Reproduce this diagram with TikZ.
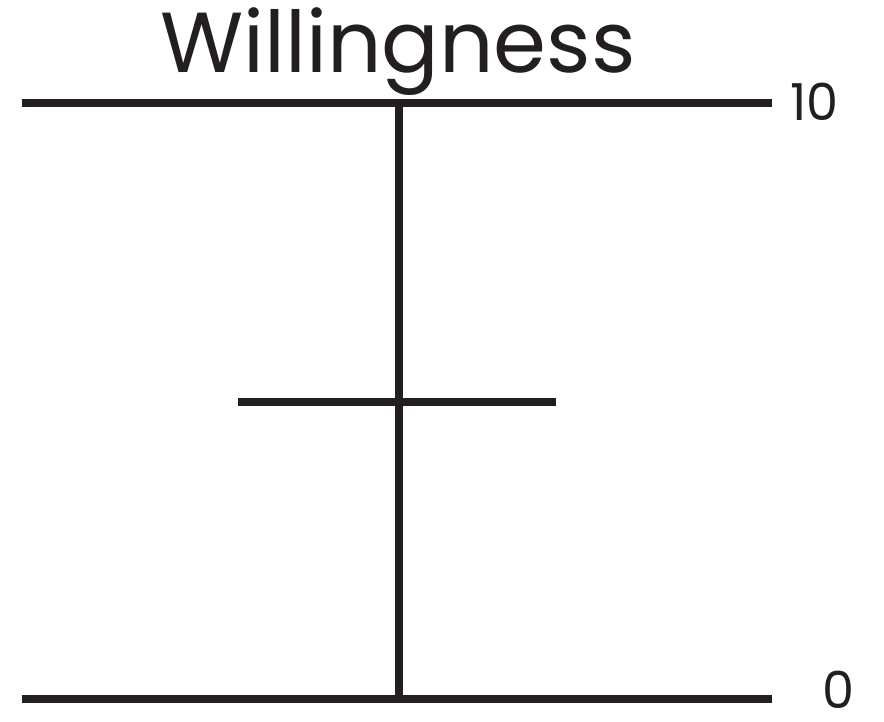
\documentclass[tikz,border=0pt]{standalone}
\usepackage{fontspec}
\setmainfont{Poppins}
\usetikzlibrary{positioning}
\definecolor{inkdark}{RGB}{35,31,32}
\tikzset{
  bar/.style={draw=inkdark, line width=4.8pt},
  scalelabel/.style={font=\fontsize{29}{32}\selectfont, text=inkdark, inner sep=0pt},
  titlelabel/.style={font=\fontsize{48.5}{52}\selectfont, text=inkdark, inner sep=0pt},
}
\begin{document}
\begin{tikzpicture}[x=0.02cm, y=-0.02cm]
\useasboundingbox (0,0) rectangle (884,721);

% ===== scale ends =====
\coordinate (topL) at (22,103);
\coordinate (topR) at (772,103);
\coordinate (botL) at (22,699);
\coordinate (botR) at (772,699);
\draw[bar] (topL) -- (topR);
\draw[bar] (botL) -- (botR);

% ===== axis and mark =====
\coordinate (axisTop) at (399,103);
\coordinate (axisBot) at (399,699);
\coordinate (markL) at (238,402);
\coordinate (markR) at (556,402);
\draw[bar] (axisTop) -- (axisBot);
\draw[bar] (markL) -- (markR);

% ===== labels =====
\node[titlelabel, anchor=base] (title) at (398,72) {Willingness};
\node[scalelabel, anchor=west] (high) at (790,102) {10};
\node[scalelabel, anchor=west] (low) at (822,690) {0};

\end{tikzpicture}
\end{document}
